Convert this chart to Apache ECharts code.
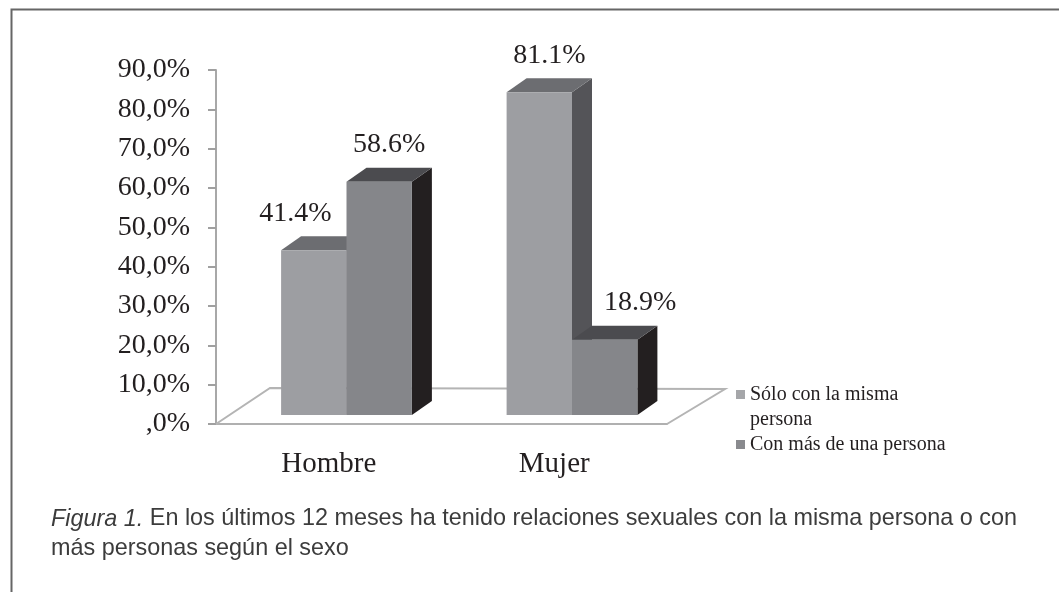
<!DOCTYPE html>
<html>
<head>
<meta charset="utf-8">
<script src="https://cdn.jsdelivr.net/npm/echarts@6/dist/echarts.min.js"></script>
<style>
  html, body { margin: 0; padding: 0; background: #fff; }
  #chart { width: 1059px; height: 592px; }
</style>
</head>
<body>
<div id="chart"></div>
<script>
// datos de la figura
const categories = ["Hombre", "Mujer"];
const seriesNames = ["Sólo con la misma\npersona", "Con más de una persona"];
const misma = [41.4, 81.1];
const masDeUna = [58.6, 18.9];
const yTickLabels = [",0%", "10,0%", "20,0%", "30,0%", "40,0%", "50,0%", "60,0%", "70,0%", "80,0%", "90,0%"];
const dataLabels = [["41.4%", "81.1%"], ["58.6%", "18.9%"]];

const allValues = [misma, masDeUna];
// colores: frente, tapa, lado
const faceColors = [
  ["#9d9ea2", "#6c6d71", "#545458"],
  ["#85868a", "#4b4b4f", "#231f20"]
];

const serif = "'Liberation Serif', 'Times New Roman', serif";
const sans = "'Liberation Sans', Arial, sans-serif";

// barras en falso 3D
function renderBar(params, api) {
  const s = seriesNames.indexOf(params.seriesName);
  const cat = api.value(0);
  const val = api.value(1);
  const base = api.coord([cat, 0]);
  const topPt = api.coord([cat, val]);
  const bw = api.size([1, 0])[0];
  const barW = bw * 0.29;
  const L = base[0] + 17.75 - barW + s * barW;
  const R = L + barW;
  const y0 = base[1] - 9;
  const top = y0 - (base[1] - topPt[1]) * 1.012;
  const dx = 20, dy = -14;
  const c = faceColors[s];

  // etiqueta: se aparta de la barra vecina si ésta es más alta
  let lx = (L + R) / 2 + 10;
  let align = "center";
  const other = allValues[1 - s][cat];
  if (other > val) {
    if (s === 0) { lx = R - 15; align = "right"; }
    else { lx = L + 32; align = "left"; }
  }

  return {
    type: "group",
    children: [
      { type: "polygon", shape: { points: [[R, top], [R + dx, top + dy], [R + dx, y0 + dy], [R, y0]] }, style: { fill: c[2] } },
      { type: "polygon", shape: { points: [[L, top], [L + dx, top + dy], [R + dx, top + dy], [R, top]] }, style: { fill: c[1] } },
      { type: "polygon", shape: { points: [[L, top], [R, top], [R, y0], [L, y0]] }, style: { fill: c[0] } },
      {
        type: "text",
        x: lx, y: top - 37,
        style: {
          text: dataLabels[s][cat],
          fill: "#231f20",
          font: "28px " + serif,
          align: align,
          verticalAlign: "middle"
        }
      }
    ]
  };
}

// piso del gráfico
function renderFloor(params, api) {
  const bw = api.size([1, 0])[0];
  const p0 = api.coord([0, 0]);
  const p1 = api.coord([categories.length - 1, 0]);
  const fl = p0[0] - bw / 2;
  const fr = p1[0] + bw / 2;
  const y = p0[1];
  return {
    type: "polyline",
    shape: { points: [[fl, y], [fl + 54, y - 36], [fr + 58, y - 35], [fr, y]] },
    style: { stroke: "#b4b4b4", lineWidth: 2, fill: null }
  };
}

const chart = echarts.init(document.getElementById("chart"));
chart.setOption({
  animation: false,
  backgroundColor: "#fff",
  title: {
    left: 46,
    top: 499,
    text: "{i|Figura 1.} En los últimos 12 meses ha tenido relaciones sexuales con la misma persona o con\nmás personas según el sexo",
    textStyle: {
      fontFamily: sans,
      fontSize: 23.4,
      fontWeight: "normal",
      color: "#3c3c3c",
      lineHeight: 30,
      rich: {
        i: { fontStyle: "italic", fontSize: 23.4, color: "#3c3c3c", fontFamily: sans }
      }
    }
  },
  legend: {
    orient: "vertical",
    left: 731,
    top: 352,
    icon: "rect",
    itemWidth: 9,
    itemHeight: 9,
    itemGap: 0,
    data: seriesNames,
    // línea vacía arriba para que el cuadro quede junto a la primera línea
    formatter: function (name) {
      return name.indexOf("\n") >= 0 ? "\n" + name : name;
    },
    textStyle: {
      fontFamily: serif,
      fontSize: 20,
      color: "#231f20",
      lineHeight: 25
    }
  },
  grid: { left: 216, right: 392, top: 70, bottom: 168 },
  xAxis: {
    type: "category",
    data: categories,
    axisLine: { lineStyle: { color: "#b0b0b0", width: 2 } },
    axisTick: { length: 7, lineStyle: { color: "#a0a0a0", width: 2 } },
    axisLabel: {
      margin: 26,
      fontFamily: serif,
      fontSize: 29,
      color: "#231f20"
    }
  },
  yAxis: {
    type: "value",
    min: 0,
    max: 90,
    interval: 10,
    splitLine: { show: false },
    axisLine: { show: true, lineStyle: { color: "#a8a8a8", width: 2 } },
    axisTick: { show: true, length: 8, lineStyle: { color: "#a0a0a0", width: 2 } },
    axisLabel: {
      margin: 26,
      fontFamily: serif,
      fontSize: 28,
      color: "#231f20",
      formatter: function (v) { return yTickLabels[Math.round(v / 10)]; }
    }
  },
  series: [
    {
      name: "piso",
      type: "custom",
      renderItem: renderFloor,
      data: [[0, 0]],
      z: 1,
      silent: true
    },
    {
      name: seriesNames[0],
      type: "custom",
      renderItem: renderBar,
      itemStyle: { color: "#a5a6a9" },
      data: misma.map((v, i) => [i, v]),
      z: 2
    },
    {
      name: seriesNames[1],
      type: "custom",
      renderItem: renderBar,
      itemStyle: { color: "#898a8e" },
      data: masDeUna.map((v, i) => [i, v]),
      z: 2
    }
  ],
  graphic: [
    {
      type: "rect",
      left: 9,
      top: 7,
      shape: { width: 1200, height: 700 },
      style: { fill: null, stroke: "#666", lineWidth: 2 },
      z: 0
    }
  ]
});
</script>
</body>
</html>
